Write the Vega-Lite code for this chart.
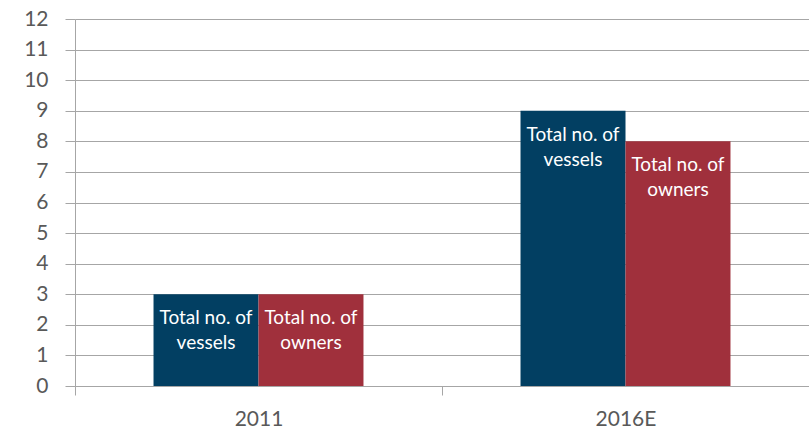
{
  "$schema": "https://vega.github.io/schema/vega-lite/v6.json",
  "width": 734,
  "height": 367,
  "autosize": "none",
  "padding": {"left": 75, "top": 19, "right": 0, "bottom": 49},
  "background": "white",
  "config": {"view": {"stroke": null}, "font": "Lato"},
  "data": {"values": [
    {"year": "2011", "series": "vessels", "value": 3, "l1": "Total no. of", "l2": "vessels"},
    {"year": "2011", "series": "owners", "value": 3, "l1": "Total no. of", "l2": "owners"},
    {"year": "2016E", "series": "vessels", "value": 9, "l1": "Total no. of", "l2": "vessels"},
    {"year": "2016E", "series": "owners", "value": 8, "l1": "Total no. of", "l2": "owners"}
  ]},
  "encoding": {
    "x": {"field": "year", "type": "nominal", "sort": ["2011", "2016E"],
      "scale": {"paddingInner": 0, "paddingOuter": 0},
      "axis": {"title": null, "labelAngle": 0, "labelFontSize": 21, "labelColor": "#595959", "labelFont": "Lato",
        "domainColor": "#A6A6A6", "tickColor": "#A6A6A6", "tickBand": "extent", "tickSize": 9, "labelPadding": 13, "grid": false}},
    "xOffset": {"field": "series", "type": "nominal", "sort": ["vessels", "owners"], "scale": {"paddingInner": 0, "paddingOuter": 0.748}},
    "y": {"field": "value", "type": "quantitative", "scale": {"domain": [0, 12], "nice": false},
      "axis": {"title": null, "values": [0,1,2,3,4,5,6,7,8,9,10,11,12], "labelOverlap": false, "labelFontSize": 21, "labelColor": "#595959",
        "domainColor": "#A6A6A6", "tickColor": "#A6A6A6", "gridColor": "#A6A6A6", "grid": true, "tickSize": 10, "labelPadding": 17}}
  },
  "layer": [
    {"mark": {"type": "bar"},
     "encoding": {"color": {"field": "series", "type": "nominal", "sort": ["vessels", "owners"],
        "scale": {"domain": ["vessels", "owners"], "range": ["#023F62", "#A0303C"]}, "legend": null}}},
    {"mark": {"type": "text", "color": "white", "fontSize": 19, "baseline": "top", "dy": 15, "font": "Lato"},
     "encoding": {"text": {"field": "l1"}}},
    {"mark": {"type": "text", "color": "white", "fontSize": 19, "baseline": "top", "dy": 40, "font": "Lato"},
     "encoding": {"text": {"field": "l2"}}}
  ]
}
